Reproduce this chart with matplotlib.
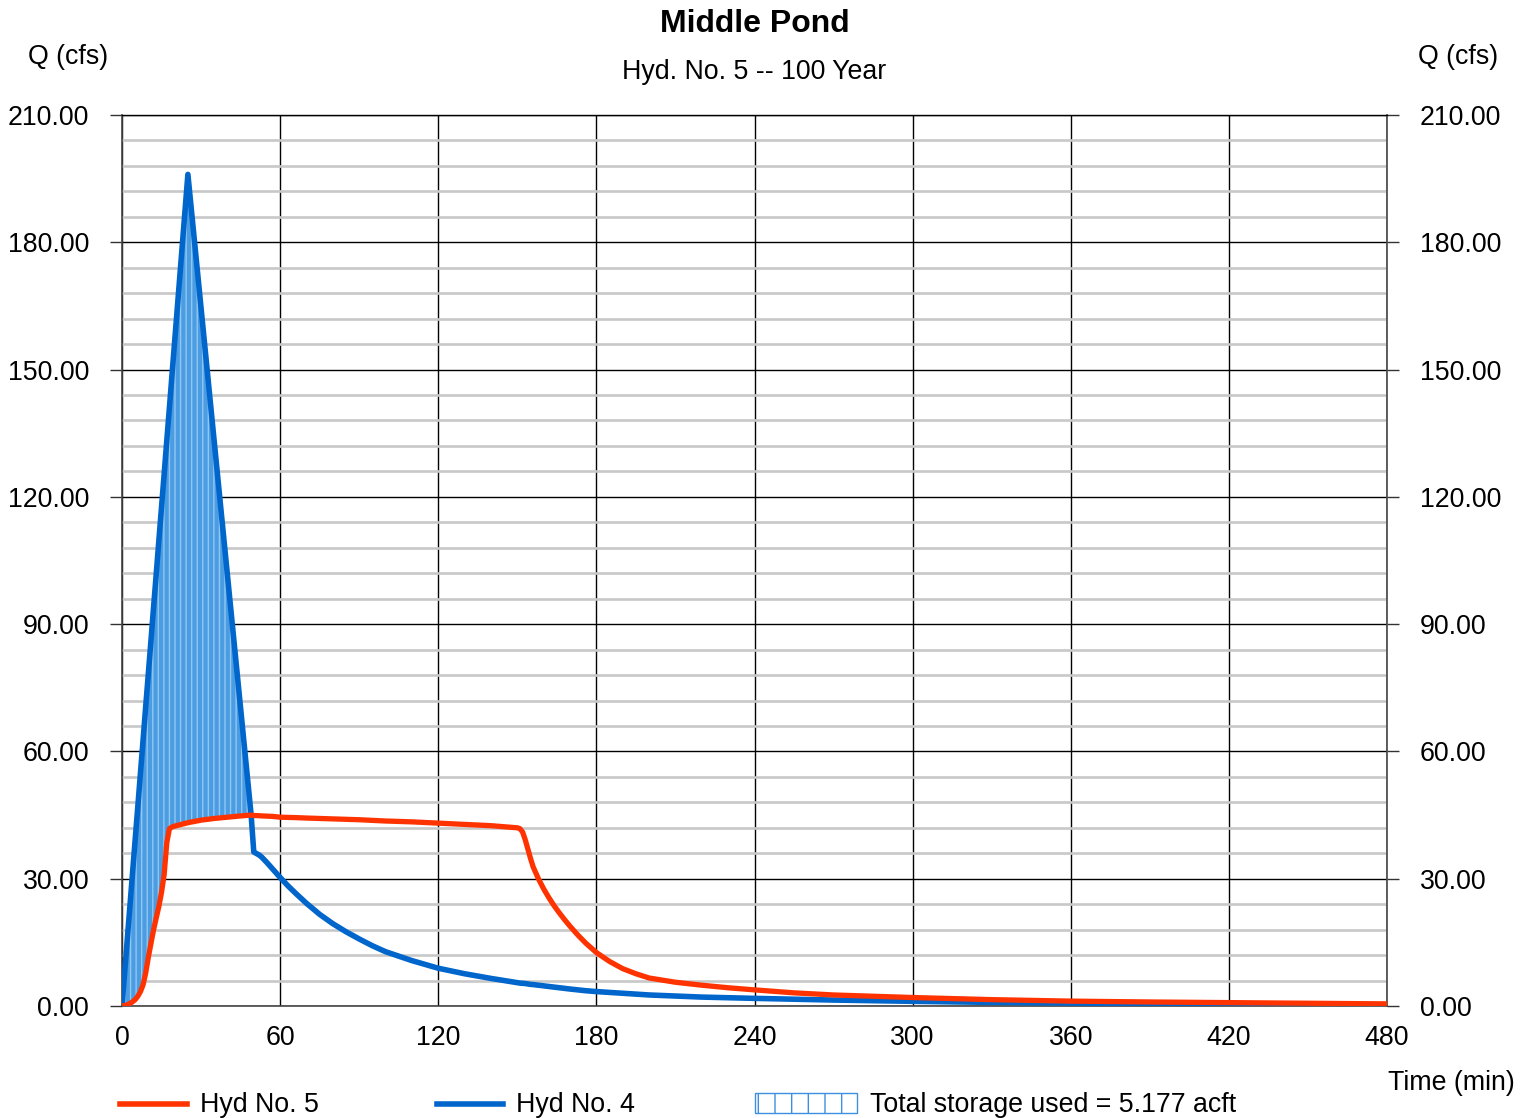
import numpy as np
import matplotlib
matplotlib.use("Agg")
import matplotlib.pyplot as plt
from matplotlib.ticker import MultipleLocator
from matplotlib.lines import Line2D
from matplotlib.patches import Rectangle

plt.rcParams['font.family'] = ['Liberation Sans', 'DejaVu Sans']
plt.rcParams['hatch.linewidth'] = 1.0

# ---- data ----
time_min = [0, 1, 2, 3, 4, 5, 6, 7, 8, 9, 10, 11, 12, 13, 14, 15, 16, 17, 18, 19,
            20, 25, 30, 35, 40, 45, 49, 50, 52, 53, 55, 57, 60, 63, 66, 70, 75,
            80, 85, 90, 95, 100, 110, 120, 130, 140, 150, 151, 152, 153, 154,
            155, 156, 158, 160, 162, 164, 166, 168, 170, 173, 176, 180, 185,
            190, 195, 200, 210, 220, 230, 240, 255, 270, 285, 300, 330, 360,
            390, 420, 450, 480]
hyd4_inflow = [0, 7.8, 15.7, 23.5, 31.4, 39.2, 47.0, 54.9, 62.7, 70.6, 78.4, 86.2,
               94.1, 101.9, 109.8, 117.6, 125.4, 133.3, 141.1, 149.0,
               156.8, 196.0, 164.5, 133.0, 101.6, 70.2, 45.0, 36.3, 35.6, 35.1,
               33.8, 32.4, 30.3, 28.3, 26.5, 24.2, 21.6,
               19.4, 17.5, 15.8, 14.2, 12.8, 10.7, 8.9, 7.6, 6.5, 5.5, 5.4,
               5.35, 5.3, 5.2,
               5.1, 5.05, 4.9, 4.75, 4.6, 4.45, 4.3, 4.15, 4.0, 3.8, 3.6, 3.4,
               3.2, 3.0, 2.8, 2.6, 2.35, 2.1, 1.95, 1.8, 1.6, 1.4, 1.25, 1.1,
               0.85, 0.7, 0.55, 0.45, 0.38, 0.3]
hyd5_outflow = [0, 0.1, 0.3, 0.6, 1.0, 1.5, 2.3, 3.4, 5.0, 7.8, 11.5, 14.8, 18.0,
                20.8, 23.5, 26.8, 31.0, 38.5, 41.8, 42.2,
                42.4, 43.2, 43.8, 44.2, 44.5, 44.8, 45.0, 44.9, 44.85, 44.8,
                44.75, 44.7, 44.5, 44.45, 44.4, 44.3, 44.2,
                44.1, 44.0, 43.9, 43.75, 43.6, 43.4, 43.1, 42.8, 42.5, 42.0,
                41.8, 41.0, 39.2, 37.0,
                34.8, 32.8, 30.0, 27.6, 25.5, 23.6, 21.9, 20.3, 18.8, 16.7,
                14.8, 12.6, 10.5, 8.8, 7.6, 6.6, 5.6, 4.9, 4.3, 3.8, 3.1, 2.6,
                2.3, 2.0, 1.5, 1.15, 0.95, 0.8, 0.65, 0.5]
x_ticks = [0, 60, 120, 180, 240, 300, 360, 420, 480]
y_ticks = [0, 30, 60, 90, 120, 150, 180, 210]
title = "Middle Pond"
subtitle = "Hyd. No. 5 -- 100 Year"
storage_label = "Total storage used = 5.177 acft"

t = np.array(time_min, dtype=float)
qin = np.array(hyd4_inflow, dtype=float)
qout = np.array(hyd5_outflow, dtype=float)

BLUE = '#0066cc'
RED = '#ff3300'
FS = 19.3

fig = plt.figure(figsize=(15.33, 11.18), dpi=100)
ax = fig.add_axes([122/1533, 1 - 1006/1118, (1387-122)/1533, (1006-115)/1118])

ax.set_xlim(0, 480)
ax.set_ylim(0, 210)
ax.set_xticks(x_ticks)
ax.set_yticks(y_ticks)
ax.set_yticklabels([f"{v:.2f}" for v in y_ticks])
ax.yaxis.set_minor_locator(MultipleLocator(6))

ax.grid(which='minor', axis='y', color='#c8c8c8', lw=1.9, zorder=0)
ax.grid(which='major', axis='both', color='black', lw=1.0, zorder=0.5)
ax.set_axisbelow(True)

ax.tick_params(axis='y', which='major', left=True, right=True, labelleft=True,
               labelright=True, length=8.6, width=1.0, color='#333333',
               labelsize=FS, pad=15, direction='out')
ax.tick_params(axis='y', which='minor', length=0)
ax.tick_params(axis='x', which='major', length=0, labelsize=FS, pad=14)

for s in ax.spines.values():
    s.set_color('#444444')
    s.set_linewidth(1.2)
ax.spines['top'].set_color('black')
ax.spines['top'].set_linewidth(1.0)

# storage fill
ax.fill_between(t, qin, qout, where=qin >= qout, interpolate=True,
                facecolor='#4a9de3', edgecolor='#93c6f0', hatch='|||',
                linewidth=0, zorder=2)

ax.plot(t, qin, color=BLUE, lw=4.0, solid_joinstyle='round',
        solid_capstyle='round', zorder=3)
ax.plot(t, qout, color=RED, lw=3.8, solid_joinstyle='round',
        solid_capstyle='round', zorder=4)

# titles and labels
cx = (122 + 1387) / 2 / 1533
fig.text(cx, 1 - 24/1118, title, ha='center', va='center', fontsize=23,
         fontweight='bold')
fig.text(cx, 1 - 72/1118, subtitle, ha='center', va='center', fontsize=FS)
fig.text(68/1533, 1 - 57/1118, "Q (cfs)", ha='center', va='center', fontsize=FS)
fig.text(1458/1533, 1 - 57/1118, "Q (cfs)", ha='center', va='center', fontsize=FS)
fig.text(1451/1533, 1 - 1083/1118, "Time (min)", ha='center', va='center',
         fontsize=FS)

# legend (manual)
ly = 1 - 1104/1118
fig.add_artist(Line2D([120/1533, 187/1533], [ly, ly], color=RED, lw=4.0,
                      transform=fig.transFigure))
fig.text(200/1533, ly - 1/1118, "Hyd No. 5", ha='left', va='center', fontsize=FS)
fig.add_artist(Line2D([437/1533, 503/1533], [ly, ly], color=BLUE, lw=4.0,
                      transform=fig.transFigure))
fig.text(516/1533, ly - 1/1118, "Hyd No. 4", ha='left', va='center', fontsize=FS)
fig.add_artist(Rectangle((755/1533, 1 - 1113/1118), 102/1533, 20/1118,
                         transform=fig.transFigure, facecolor='white',
                         edgecolor='#3d8fe0', hatch='|', lw=1.0))
fig.text(870/1533, ly - 1/1118, storage_label, ha='left', va='center',
         fontsize=FS)

fig.savefig("out.png", dpi=100)
